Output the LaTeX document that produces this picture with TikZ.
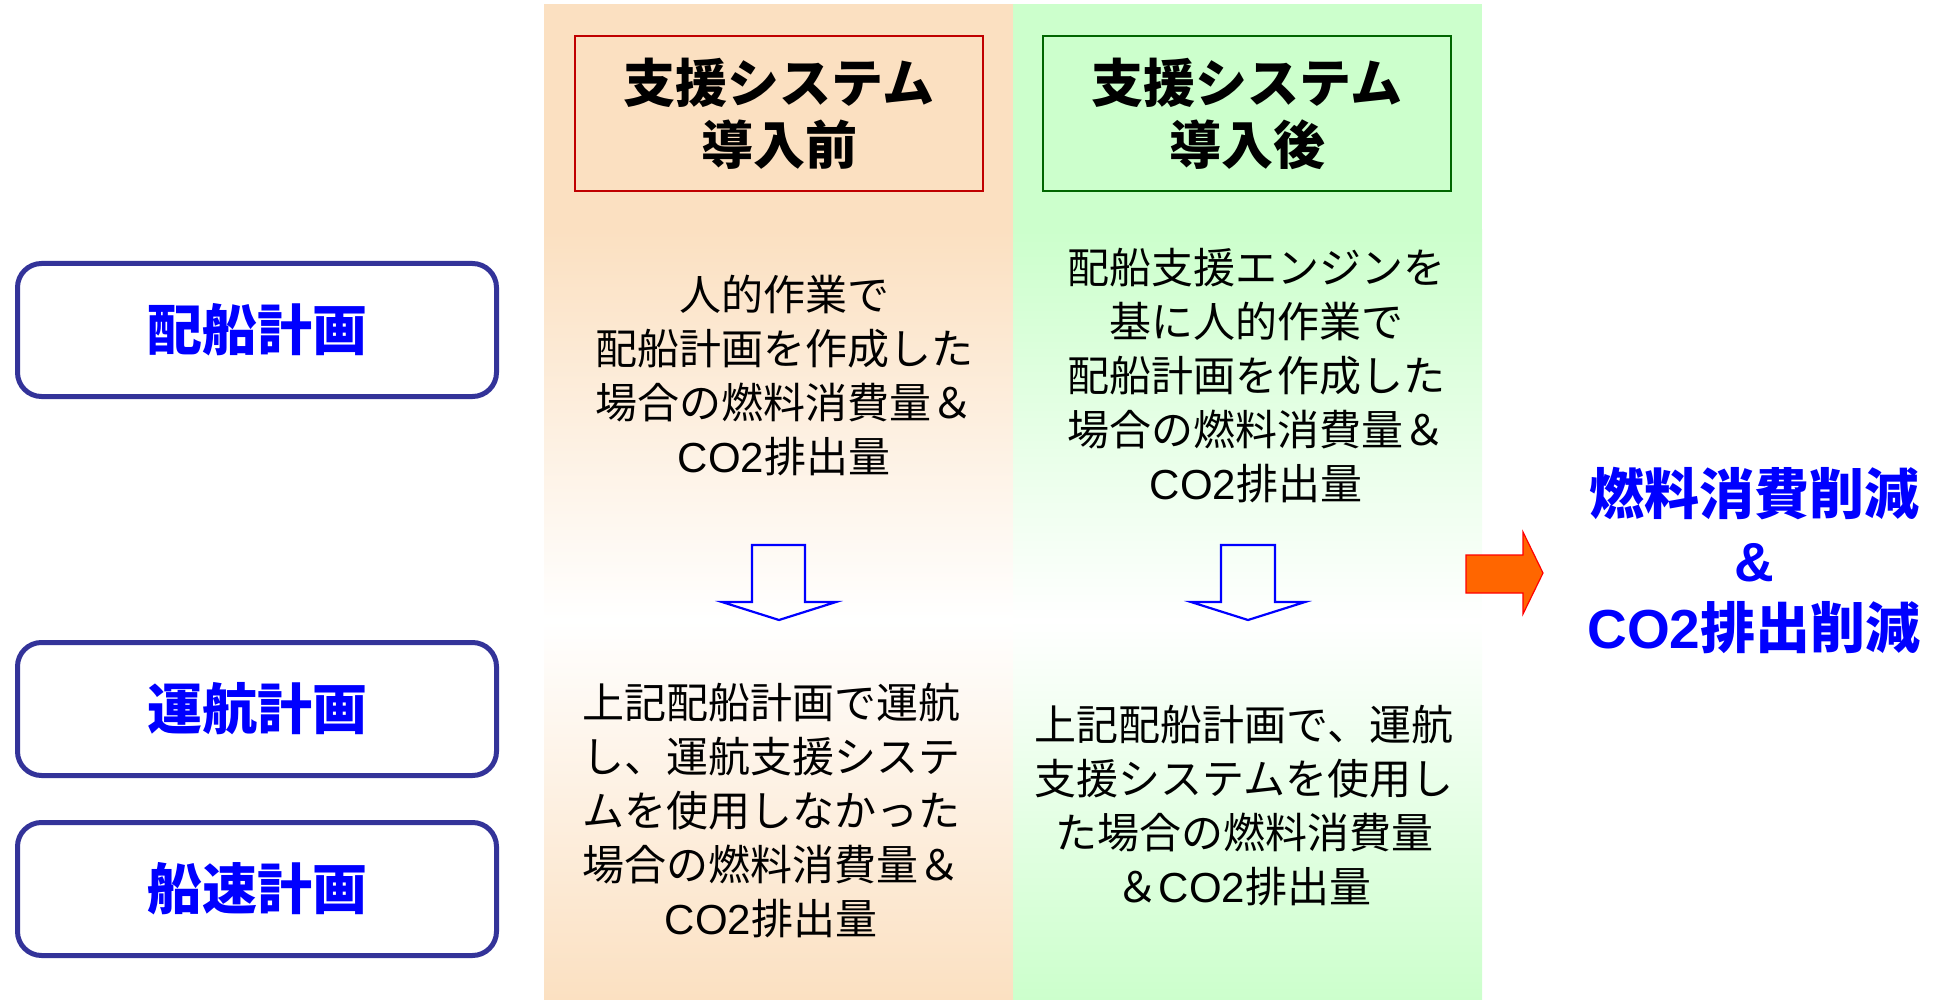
\documentclass[tikz,border=0pt]{standalone}
\usepackage{fontspec}
\setmainfont{Noto Sans CJK JP}
\newfontfamily\latn{Liberation Sans}
\newcommand{\cotwo}{{\latn CO2}}
\definecolor{peach}{RGB}{251,224,193}
\definecolor{lgreen}{RGB}{204,255,204}
\definecolor{boxblue}{RGB}{51,51,153}
\definecolor{txtblue}{RGB}{0,0,255}
\definecolor{redline}{RGB}{192,0,0}
\definecolor{greenline}{RGB}{0,102,0}
\definecolor{orangefill}{RGB}{255,102,0}
\tikzset{
  planbox/.style={draw=boxblue, line width=5pt, rounded corners=24pt, fill=white,
    minimum width=479pt, minimum height=133pt, text=txtblue,
    font=\fontsize{55}{60}\selectfont\bfseries},
  titlebox/.style={line width=2pt, minimum width=408pt, minimum height=155pt,
    align=center, font=\fontsize{52}{62}\selectfont\bfseries},
  bodytext/.style={align=center, font=\fontsize{42}{54}\selectfont},
  downarrow/.style={draw=txtblue, line width=2.2pt, fill=none},
  result/.style={align=center, text=txtblue, font=\fontsize{55}{67}\selectfont\bfseries}
}
\begin{document}
\begin{tikzpicture}[x=1pt,y=-1pt]
\useasboundingbox (0,0) rectangle (1943,1000);
% column backgrounds
\fill[peach] (544,4) rectangle (1013,231);
\shade[top color=peach, bottom color=white] (544,230) rectangle (1013,621);
\shade[top color=white, bottom color=peach] (544,620) rectangle (1013,1000);
\fill[lgreen] (1013,4) rectangle (1482,231);
\shade[top color=lgreen, bottom color=white] (1013,230) rectangle (1482,621);
\shade[top color=white, bottom color=lgreen] (1013,620) rectangle (1482,1000);
% title boxes
\node[titlebox, draw=redline] (before) at (779,114) {支援システム\\導入前};
\node[titlebox, draw=greenline] (after) at (1247,114) {支援システム\\導入後};
% left plan boxes
\node[planbox] (haisen) at (257,330) {配船計画};
\node[planbox] (unko) at (257,709) {運航計画};
\node[planbox] (sensoku) at (257,889) {船速計画};
% body texts
\node[bodytext] (b1) at (784,375) {人的作業で\\配船計画を作成した\\場合の燃料消費量＆\\\cotwo 排出量};
\node[bodytext] (a1) at (1256,376) {配船支援エンジンを\\基に人的作業で\\配船計画を作成した\\場合の燃料消費量＆\\\cotwo 排出量};
\node[bodytext] (b2) at (771,811) {上記配船計画で運航\\し、運航支援システ\\ムを使用しなかった\\場合の燃料消費量＆\\\cotwo 排出量};
\node[bodytext] (a2) at (1244,806) {上記配船計画で、運航\\支援システムを使用し\\た場合の燃料消費量\\＆\cotwo 排出量};
% down arrows
\draw[downarrow] (752,545) -- (805,545) -- (805,602) -- (836,602) -- (779,620)
  -- (722,602) -- (752,602) -- cycle;
\draw[downarrow] (1221,545) -- (1275,545) -- (1275,602) -- (1305,602) -- (1248,620)
  -- (1191,602) -- (1221,602) -- cycle;
% orange arrow
\draw[draw=red, line width=1.2pt, fill=orangefill] (1466,555) -- (1523,555) -- (1523,532)
  -- (1543,573) -- (1523,614) -- (1523,593) -- (1466,593) -- cycle;
% result text
\node[result] (res) at (1754,560) {燃料消費削減\\{\latn\&}\\\cotwo 排出削減};
\end{tikzpicture}
\end{document}
